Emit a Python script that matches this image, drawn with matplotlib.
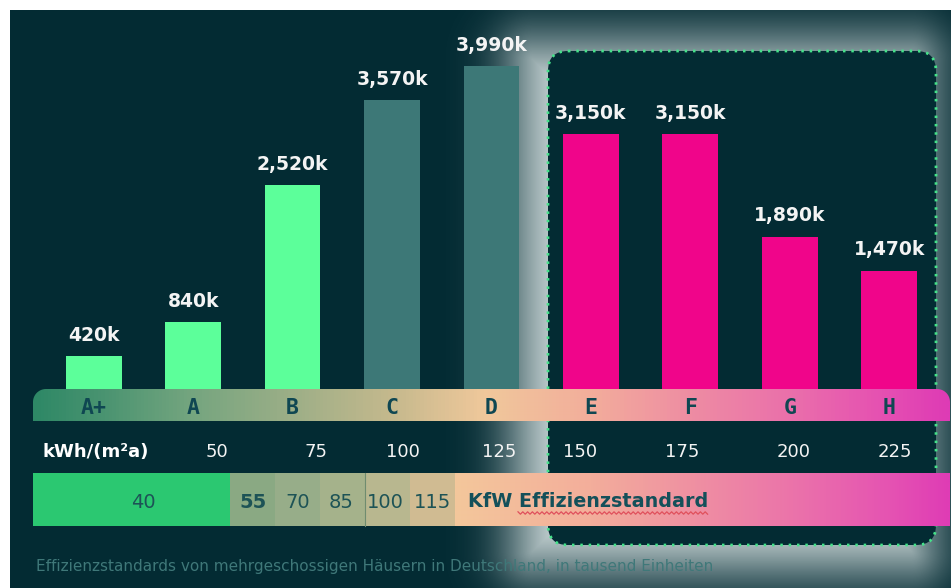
import math
import numpy as np
import matplotlib
matplotlib.use("Agg")
import matplotlib.pyplot as plt
from matplotlib.patches import Rectangle, FancyBboxPatch, PathPatch
from matplotlib.path import Path
from matplotlib.colors import LinearSegmentedColormap, to_rgb
from matplotlib import transforms

# ---------------- data ----------------
classes = ["A+", "A", "B", "C", "D", "E", "F", "G", "H"]
units_k = [420, 840, 2520, 3570, 3990, 3150, 3150, 1890, 1470]
value_labels = ["420k", "840k", "2,520k", "3,570k", "3,990k",
                "3,150k", "3,150k", "1,890k", "1,470k"]
kwh_ticks = ["50", "75", "100", "125", "150", "175", "200", "225"]
kwh_unit = "kWh/(m²a)"
kfw_levels = ["40", "55", "70", "85", "100", "115"]
kfw_title = "KfW Effizienzstandard"
caption = ("Effizienzstandards von mehrgeschossigen Häusern in Deutschland, "
           "in tausend Einheiten")

# ---------------- style / layout ----------------
W, H = 951, 588
BG = "#032b33"
MINT, TEAL, MAGENTA = "#5cff9a", "#3d7877", "#f0058a"
bar_colors = [MINT, MINT, MINT, TEAL, TEAL, MAGENTA, MAGENTA, MAGENTA, MAGENTA]
LETTER_COL = "#0f4752"

fig = plt.figure(figsize=(W / 100, H / 100), dpi=100)
fig.patch.set_facecolor("white")

# background layer (pixel coordinates)
bg = fig.add_axes([0, 0, 1, 1], zorder=0)
bg.axis("off")
bg.add_patch(Rectangle((10, 10), W - 10, H - 10, facecolor=BG, edgecolor="none", zorder=0))

# soft glow (box-shadow) around highlight box
yy, xx = np.mgrid[0:H, 0:W] + 0.5


def rrect_sdf(x, y, x0, y0, x1, y1, r):
    cx, cy = (x0 + x1) / 2, (y0 + y1) / 2
    hx, hy = (x1 - x0) / 2 - r, (y1 - y0) / 2 - r
    qx, qy = np.abs(x - cx) - hx, np.abs(y - cy) - hy
    outside = np.hypot(np.maximum(qx, 0), np.maximum(qy, 0))
    inside = np.minimum(np.maximum(qx, qy), 0)
    return outside + inside - r


box = (548, 51, 936, 545)
d = rrect_sdf(xx, yy, box[0] - 30, box[1] - 6, box[2] - 10, box[3] + 21, 15)
sigma = 30.0
erf_v = np.vectorize(math.erf)
alpha = 0.5 * (1 - erf_v(d / (sigma * math.sqrt(2))))
alpha[(xx < 10) | (yy < 10)] = 0
glow = np.zeros((H, W, 4))
glow[..., :3] = to_rgb("#d9e3e3")
glow[..., 3] = alpha
bg.imshow(glow, extent=(0, W, H, 0), interpolation="bilinear", aspect="auto", zorder=1)
bg.set_xlim(0, W)
bg.set_ylim(H, 0)

bg.add_patch(FancyBboxPatch((box[0], box[1]), box[2] - box[0], box[3] - box[1],
                            boxstyle="round,pad=0,rounding_size=20",
                            facecolor=BG, edgecolor="none", zorder=2))
bg.add_patch(FancyBboxPatch((box[0], box[1]), box[2] - box[0], box[3] - box[1],
                            boxstyle="round,pad=0,rounding_size=20",
                            facecolor="none", edgecolor="#45e28a", linewidth=2.0,
                            linestyle=(0, (0.9, 2.1)), zorder=3))

# bar layer
step, x0px, base_px, top_px = 99.44, 93.7, 390, 10
ax = fig.add_axes([0, (H - base_px) / H, 1, (base_px - top_px) / H], zorder=1)
ax.set_xlim(-x0px / step, (W - x0px) / step)
ax.set_ylim(0, 4680)
ax.patch.set_alpha(0)
ax.axis("off")
xpos = np.arange(len(classes))
ax.bar(xpos, units_k, width=0.56, color=bar_colors, linewidth=0)
for i, (v, lbl) in enumerate(zip(units_k, value_labels)):
    ax.annotate(lbl, (xpos[i], v), xytext=(0, 11), textcoords="offset points",
                ha="center", va="baseline", color="#f4f4f4", fontsize=13.5,
                fontweight="bold", family="DejaVu Sans")

# foreground layer (pixel coordinates)
fg = fig.add_axes([0, 0, 1, 1], zorder=2)
fg.patch.set_alpha(0)
fg.axis("off")

# class band with gradient and rounded top corners
bx0, bx1, by0, by1, r = 33, 950, 389, 421, 13
th1 = np.linspace(np.pi, np.pi / 2, 20)
th2 = np.linspace(np.pi / 2, 0, 20)
pts = [(bx0 + r + r * np.cos(t), by0 + r - r * np.sin(t)) for t in th1]
pts += [(bx1 - r + r * np.cos(t), by0 + r - r * np.sin(t)) for t in th2]
pts += [(bx1, by1), (bx0, by1), (bx0, by0 + r)]
band_patch = PathPatch(Path(pts, closed=True), facecolor="none", edgecolor="none")
fg.add_patch(band_patch)

stops_px = [33, 104, 189, 287, 391, 485, 589, 694, 794, 891, 950]
stops_col = ["#2e8866", "#4b9471", "#74a57f", "#9bae87", "#c5b98d", "#f0c89b",
             "#f3ae9b", "#ee8ca3", "#ea6fab", "#e54eb2", "#de3bb5"]
cmap_band = LinearSegmentedColormap.from_list(
    "band", [((p - 33) / (950 - 33), c) for p, c in zip(stops_px, stops_col)])
grad = cmap_band(np.linspace(0, 1, 917))[None, :, :]
im = fg.imshow(grad, extent=(bx0, bx1, by1, by0), aspect="auto",
               interpolation="bilinear", zorder=1)
im.set_clip_path(band_patch)

blend = transforms.blended_transform_factory(ax.transData, fg.transData)
for i, c in enumerate(classes):
    fg.text(xpos[i], 413.5, c, transform=blend, ha="center", va="baseline",
            family="DejaVu Sans Mono", fontweight="bold", fontsize=15.5,
            color=LETTER_COL, zorder=3)

# kWh row
fg.text(43, 457, kwh_unit, ha="left", va="baseline", color="white",
        fontsize=13, fontweight="bold", zorder=3)
kwh_px = [217, 316, 403, 499, 580, 682, 794, 895]
for t, px in zip(kwh_ticks, kwh_px):
    fg.text(px, 457, t, ha="center", va="baseline", color="#f4f4f4",
            fontsize=13, zorder=3)

# KfW band
ky0, ky1 = 473, 526
seg_edges = [33, 230, 275, 320, 365, 410, 455]
seg_cols = ["#2bc871", "#8aa983", "#97ad89", "#a5b28b", "#b8b78f", "#d0bb92"]
kfw_text_px = [143, 253, 297.5, 341, 385, 432.5]
for j, lv in enumerate(kfw_levels):
    a, b = seg_edges[j], seg_edges[j + 1]
    fg.add_patch(Rectangle((a, ky0), b - a, ky1 - ky0, facecolor=seg_cols[j],
                           edgecolor="none", zorder=1))
    fg.text(kfw_text_px[j], 508, lv, ha="center", va="baseline", fontsize=14,
            fontweight="bold" if lv == "55" else "normal",
            color="#1d5356", zorder=3)
fg.plot([365, 365], [ky0, ky1], color="#6f8c6f", lw=0.8, zorder=2)

kstops_px = [455, 589, 694, 794, 891, 950]
kstops_col = ["#f4c79b", "#f3ae9b", "#ef90a2", "#eb73aa", "#e553b2", "#df3cb5"]
cmap_kfw = LinearSegmentedColormap.from_list(
    "kfw", [((p - 455) / (950 - 455), c) for p, c in zip(kstops_px, kstops_col)])
fg.imshow(cmap_kfw(np.linspace(0, 1, 495))[None, :, :], extent=(455, 950, ky1, ky0),
          aspect="auto", interpolation="bilinear", zorder=1)
fg.text(468, 507, kfw_title, ha="left", va="baseline", fontsize=13.8,
        fontweight="bold", color="#14505a", zorder=3)
# spell-check squiggle under "Effizienzstandard"
sx = np.arange(518, 708, 2.4)
sy = 513 + np.where(np.arange(len(sx)) % 2 == 0, -1.2, 1.2)
fg.plot(sx, sy, color="#e0505c", lw=0.9, zorder=3)

# caption
fg.text(36, 571, caption, ha="left", va="baseline", fontsize=11,
        color="#3f7879", zorder=3)

fg.set_xlim(0, W)
fg.set_ylim(H, 0)

fig.savefig("out.png", dpi=100, facecolor=fig.get_facecolor())
